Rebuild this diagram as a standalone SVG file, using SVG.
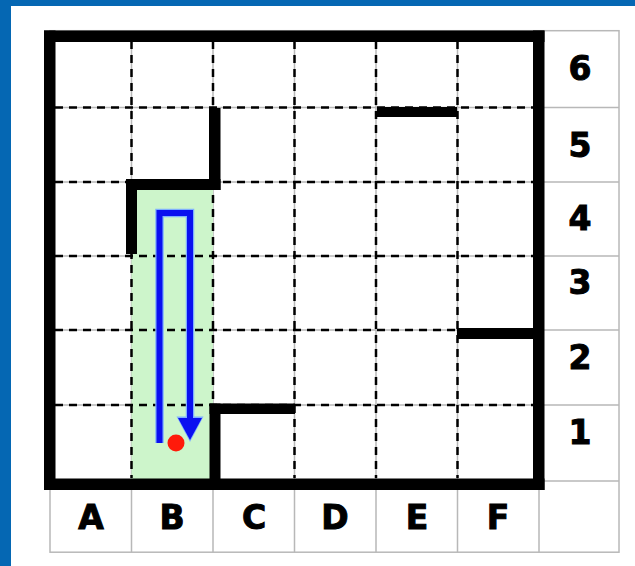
<svg xmlns="http://www.w3.org/2000/svg" width="635" height="566" viewBox="0 0 635 566">
<style>
.grid{stroke:#b8b8b8;stroke-width:1.5;fill:none}
.dash{stroke:#000;stroke-width:2.5;stroke-dasharray:8 6;fill:none}
.wall{fill:#000}
.lbl{font-family:"DejaVu Sans",Verdana,sans-serif;font-weight:bold;font-size:33px;fill:#000;stroke:#000;stroke-width:1;text-anchor:middle}
</style>
<rect x="0" y="0" width="635" height="566" fill="#fff"/>
<rect x="0" y="0" width="635" height="6" fill="#0567b3"/>
<rect x="0" y="0" width="11" height="566" fill="#0567b3"/>
<g id="table" class="grid">
<rect x="50" y="30.7" width="569" height="521.5"/>
<path d="M131.5 30.7V552.2M213 30.7V552.2M294.5 30.7V552.2M376 30.7V552.2M457.5 30.7V552.2M539 30.7V552.2"/>
<path d="M50 107.5H619M50 182H619M50 256H619M50 330H619M50 405H619M50 481H619"/>
</g>
<rect id="visited" x="131.5" y="182" width="81.5" height="300" fill="#cdf5cb"/>
<g id="dashes" class="dash">
<path d="M131.5 41V478M213 41V478M294.5 41V478M376 41V478M457.5 41V478"/>
<path d="M55 107.5H533M55 182H533M55 256H533M55 330H533M55 405H533"/>
</g>
<g id="walls">
<rect class="wall" x="44" y="30.5" width="500.5" height="11.5"/>
<rect class="wall" x="44" y="478.5" width="500.5" height="11.5"/>
<rect class="wall" x="44" y="30.5" width="11.5" height="459.5"/>
<rect class="wall" x="533" y="30.5" width="11.5" height="459.5"/>
<rect class="wall" x="209" y="108" width="11.5" height="82"/>
<rect class="wall" x="126" y="179" width="94.5" height="11"/>
<rect class="wall" x="126" y="179" width="11" height="75"/>
<rect class="wall" x="377" y="107" width="80" height="10"/>
<rect class="wall" x="457" y="328" width="80" height="11"/>
<rect class="wall" x="209.5" y="403.5" width="85.5" height="10.5"/>
<rect class="wall" x="209.5" y="403.5" width="11" height="80"/>
</g>
<g id="path">
<path d="M159.5 443V213H190V420" fill="none" stroke="#7fb0ff" stroke-width="8.5" stroke-linejoin="miter"/>
<polygon points="176.5,416.5 203.5,416.5 190,442" fill="#7fb0ff"/>
<path d="M159.5 443V213H190V420" fill="none" stroke="#0a10f0" stroke-width="6" stroke-linejoin="miter"/>
<polygon points="178,418 202,418 190,440" fill="#0a10f0"/>
</g>
<circle id="start" cx="176" cy="443" r="8.5" fill="#ff1a0a"/>
<g id="col-labels" class="lbl">
<text x="91" y="529">A</text>
<text x="172" y="529">B</text>
<text x="254" y="529">C</text>
<text x="335" y="529">D</text>
<text x="417" y="529">E</text>
<text x="498" y="529">F</text>
</g>
<g id="row-labels" class="lbl">
<text x="580" y="80">6</text>
<text x="580" y="157">5</text>
<text x="580" y="230">4</text>
<text x="580" y="294">3</text>
<text x="580" y="369">2</text>
<text x="580" y="444">1</text>
</g>
</svg>
